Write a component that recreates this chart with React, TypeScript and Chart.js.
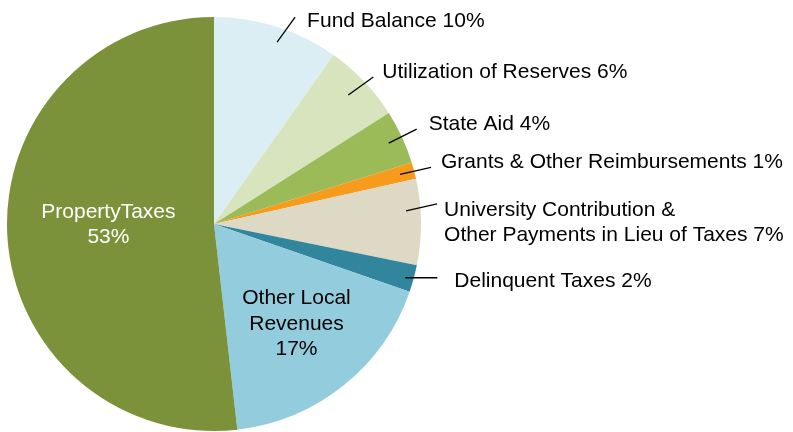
import React, { useEffect, useRef } from "react";
import { Chart, registerables } from "chart.js";

Chart.register(...registerables);

// ---- data ----
const categories = [
  "Fund Balance",
  "Utilization of Reserves",
  "State Aid",
  "Grants & Other Reimbursements",
  "University Contribution & Other Payments in Lieu of Taxes",
  "Delinquent Taxes",
  "Other Local Revenues",
  "PropertyTaxes",
];
const shares = [9.8, 6.2, 4.2, 1.3, 6.7, 2.1, 17.9, 51.8];
const labelTexts = [
  ["Fund Balance 10%"],
  ["Utilization of Reserves 6%"],
  ["State Aid 4%"],
  ["Grants & Other Reimbursements 1%"],
  ["University Contribution &", "Other Payments in Lieu of Taxes 7%"],
  ["Delinquent Taxes 2%"],
  ["Other Local", "Revenues", "17%"],
  ["PropertyTaxes", "53%"],
];

// ---- styles / layout ----
const sliceColors = [
  "#DBEEF4",
  "#D7E4BD",
  "#9BBB59",
  "#F79B1D",
  "#DDD9C4",
  "#31859C",
  "#93CDDD",
  "#7B923A",
];

type Placement =
  | { kind: "out"; rFrac: number; shift: number; dx: number; dy: number; tx: number; ty: number }
  | { kind: "in"; rFrac: number; shift: number; color: string };

const placements: Placement[] = [
  { kind: "out", rFrac: 0.93, shift: 1.5, dx: 18, dy: -25, tx: 12, ty: 10 },
  { kind: "out", rFrac: 0.9, shift: -0.3, dx: 25, dy: -18, tx: 9, ty: 1 },
  { kind: "out", rFrac: 0.93, shift: 0, dx: 28, dy: -14, tx: 12, ty: 1 },
  { kind: "out", rFrac: 0.93, shift: 0, dx: 31, dy: -7, tx: 10, ty: 1 },
  { kind: "out", rFrac: 0.93, shift: -3.4, dx: 31, dy: -7, tx: 7, ty: 12 },
  { kind: "out", rFrac: 0.96, shift: 0.4, dx: 32, dy: 0, tx: 17, ty: 9 },
  { kind: "in", rFrac: 0.62, shift: -1.3, color: "#000000" },
  { kind: "in", rFrac: 0.51, shift: 3.7, color: "#FFFFFF" },
];

const FONT = '21px "Liberation Sans", Arial, sans-serif';
const LINE_H = 25.5;
const CAP_HALF = 7.5;

const labelPlugin = {
  id: "sliceLabels",
  afterDraw(chart: any) {
    const ctx = chart.ctx as CanvasRenderingContext2D;
    const meta = chart.getDatasetMeta(0);
    ctx.save();
    ctx.font = FONT;
    meta.data.forEach((arc: any, i: number) => {
      const p = placements[i];
      const lines = labelTexts[i];
      const { x, y, startAngle, endAngle, outerRadius } = arc.getProps(
        ["x", "y", "startAngle", "endAngle", "outerRadius"],
        true
      );
      const a = (startAngle + endAngle) / 2 + (p.shift * Math.PI) / 180;
      const r = outerRadius * p.rFrac;
      const px = x + r * Math.cos(a);
      const py = y + r * Math.sin(a);
      if (p.kind === "out") {
        const ex = px + p.dx;
        const ey = py + p.dy;
        ctx.strokeStyle = "#000000";
        ctx.lineWidth = 1.3;
        ctx.beginPath();
        ctx.moveTo(px, py);
        ctx.lineTo(ex, ey);
        ctx.stroke();
        ctx.fillStyle = "#000000";
        ctx.textAlign = "left";
        ctx.textBaseline = "alphabetic";
        lines.forEach((t, k) => {
          ctx.fillText(t, ex + p.tx, ey + p.ty + k * LINE_H);
        });
      } else {
        ctx.fillStyle = p.color;
        ctx.textAlign = "center";
        ctx.textBaseline = "alphabetic";
        const first = py - ((lines.length - 1) * LINE_H) / 2;
        lines.forEach((t, k) => {
          ctx.fillText(t, px, first + k * LINE_H + CAP_HALF);
        });
      }
    });
    ctx.restore();
  },
};

export default function App() {
  const ref = useRef<HTMLCanvasElement | null>(null);
  useEffect(() => {
    if (!ref.current) return;
    const chart = new Chart(ref.current, {
      type: "pie",
      data: {
        labels: categories,
        datasets: [
          {
            data: shares,
            backgroundColor: sliceColors,
            borderWidth: 0,
            hoverOffset: 0,
          },
        ],
      },
      options: {
        responsive: false,
        animation: false,
        events: [],
        layout: { padding: { left: 7, top: 17, right: 372, bottom: 1 } },
        plugins: {
          legend: { display: false },
          tooltip: { enabled: false },
        },
      },
      plugins: [labelPlugin],
    });
    return () => chart.destroy();
  }, []);
  return (
    <div style={{ position: "absolute", left: 0, top: 0, width: 793, height: 432, background: "#ffffff" }}>
      <canvas ref={ref} width={793} height={432} />
    </div>
  );
}
